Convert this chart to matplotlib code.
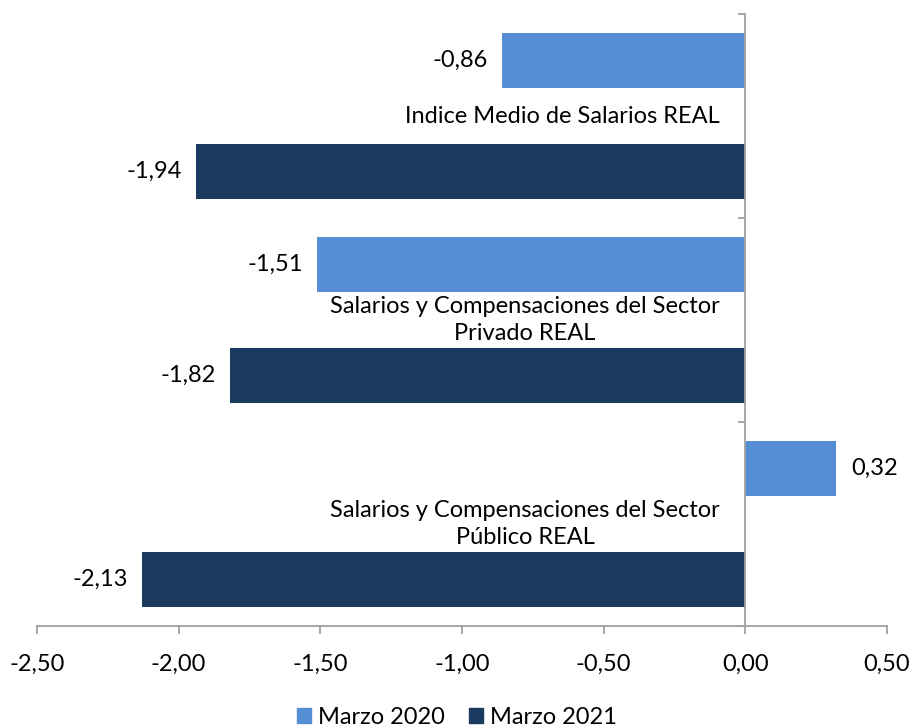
import matplotlib
matplotlib.use("Agg")
import matplotlib.pyplot as plt
from matplotlib.patches import Patch
import numpy as np

plt.rcParams['font.family'] = ['Lato', 'DejaVu Sans']

# datos
categorias = ["Indice Medio de Salarios REAL",
              "Salarios y Compensaciones del Sector\nPrivado REAL",
              "Salarios y Compensaciones del Sector\nPúblico REAL"]
series = ["Marzo 2020", "Marzo 2021"]
marzo2020 = [-0.86, -1.51, 0.32]
marzo2021 = [-1.94, -1.82, -2.13]
xticks = [-2.5, -2.0, -1.5, -1.0, -0.5, 0.0, 0.5]

colores = ["#558ED5", "#1B3A5F"]
gris = "#A0A0A0"
fs = 17


def fmt(v):
    return ("%.2f" % v).replace(".", ",")


fig = plt.figure(figsize=(9.14, 7.28), dpi=100)
ax = fig.add_axes([37/914, 1 - 626/728, 850/914, 612/728])

y = np.arange(len(categorias))
off = 0.272
h = 0.27
ax.barh(y - off, marzo2020, height=h, color=colores[0])
ax.barh(y + off, marzo2021, height=h, color=colores[1])

# etiquetas de valores
for vals, d in ((marzo2020, -off), (marzo2021, off)):
    for i, v in enumerate(vals):
        if v < 0:
            ax.text(v - 0.05, i + d, fmt(v), ha='right', va='center', fontsize=fs)
        else:
            ax.text(v + 0.055, i + d, fmt(v), ha='left', va='center', fontsize=fs)

# nombres de categorias junto al eje
for i, c in enumerate(categorias):
    ax.text(-0.09, i, c, ha='right', va='center', multialignment='center',
            fontsize=fs, linespacing=1.4)

ax.set_xlim(-2.5, 0.5)
ax.set_ylim(2.5, -0.5)
ax.set_xticks(xticks)
ax.set_xticklabels([fmt(t) for t in xticks], fontsize=fs)
ax.set_yticks([-0.5, 0.5, 1.5, 2.5])
ax.set_yticklabels([])

ax.spines['top'].set_visible(False)
ax.spines['right'].set_visible(False)
ax.spines['left'].set_position(('data', 0))
for s in ('left', 'bottom'):
    ax.spines[s].set_color(gris)
    ax.spines[s].set_linewidth(1.3)
ax.tick_params(axis='x', direction='out', length=6, width=1.3, color=gris, pad=14)
ax.tick_params(axis='y', direction='out', length=5, width=1.3, color=gris)

handles = [Patch(color=colores[0]), Patch(color=colores[1])]
fig.legend(handles, series, loc='center', bbox_to_anchor=(0.5, 0.014), ncol=2,
           frameon=False, fontsize=fs, handlelength=0.6, handleheight=0.6,
           handletextpad=0.3, columnspacing=1.0)

fig.savefig("out.png", dpi=100)
